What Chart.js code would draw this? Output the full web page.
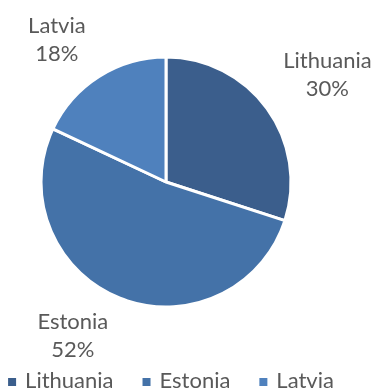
<!DOCTYPE html>
<html>
<head>
<meta charset="utf-8">
<script src="https://cdn.jsdelivr.net/npm/chart.js@4/dist/chart.umd.min.js"></script>
<style>
  body { margin: 0; background: #fff; }
</style>
</head>
<body>
<canvas id="pie-chart" width="374" height="389"></canvas>
<script>
const countries = ['Lithuania', 'Estonia', 'Latvia'];
const shares = [30, 52, 18];

const sliceColors = ['#3b5e8c', '#4472a8', '#4f81bd'];
const textColor = '#595959';
const fontFamily = 'Lato, "Open Sans", sans-serif';
const fontSize = 22;
const lineHeight = 28;

// two-line "name / pct" labels placed just outside each slice,
// nearest corner of the label box sits on the slice's mid angle
const outsideLabels = {
    id: 'outsideLabels',
    afterDatasetsDraw(chart) {
        const ctx = chart.ctx
        const meta = chart.getDatasetMeta(0)
        const total = shares.reduce((a, b) => a + b, 0)
        ctx.save()
        ctx.font = fontSize + 'px ' + fontFamily
        ctx.fillStyle = textColor
        ctx.textAlign = 'center'
        ctx.textBaseline = 'middle'
        meta.data.forEach((arc, i) => {
            const {x, y, startAngle, endAngle, outerRadius} = arc.getProps(['x', 'y', 'startAngle', 'endAngle', 'outerRadius'], true)
            const mid = (startAngle + endAngle) / 2
            const dx = Math.cos(mid)
            const dy = Math.sin(mid)
            const dist = outerRadius + 10
            const px = x + dx * dist
            const py = y + dy * dist
            const lines = [countries[i], Math.round(shares[i] / total * 100) + '%']
            const w = Math.max(...lines.map(t => ctx.measureText(t).width)) + 16
            const h = lineHeight * lines.length
            const left = dx >= 0 ? px : px - w
            const top = dy >= 0 ? py : py - h
            lines.forEach((t, j) => {
                ctx.fillText(t, left + w / 2, top + lineHeight * (j + 0.5))
            })
        })
        ctx.restore()
    }
}

// legend in one row under the pie, small squares before each name
const bottomLegend = {
    id: 'bottomLegend',
    afterDraw(chart) {
        const ctx = chart.ctx
        const box = 8, gap = 9, spacing = 29
        const centerX = 171, midY = 381
        ctx.save()
        ctx.font = fontSize + 'px ' + fontFamily
        ctx.textBaseline = 'middle'
        ctx.textAlign = 'left'
        const widths = countries.map(t => ctx.measureText(t).width)
        const total = widths.reduce((a, b) => a + b, 0) + countries.length * (box + gap) + (countries.length - 1) * spacing
        let x = centerX - total / 2
        countries.forEach((name, i) => {
            ctx.fillStyle = sliceColors[i]
            ctx.fillRect(x, midY + 1 - box / 2, box, box)
            x += box + gap
            ctx.fillStyle = textColor
            ctx.fillText(name, x, midY)
            x += widths[i] + spacing
        })
        ctx.restore()
    }
}

new Chart(document.getElementById('pie-chart'), {
    type: 'pie',
    data: {
        labels: countries,
        datasets: [{
            data: shares,
            backgroundColor: sliceColors,
            borderColor: '#ffffff',
            borderWidth: 3
        }]
    },
    options: {
        responsive: false,
        animation: false,
        radius: 125,
        layout: {
            padding: {top: 0, bottom: 25, left: 0, right: 42}
        },
        plugins: {
            legend: {display: false},
            tooltip: {enabled: false}
        }
    },
    plugins: [outsideLabels, bottomLegend]
});
</script>
</body>
</html>
